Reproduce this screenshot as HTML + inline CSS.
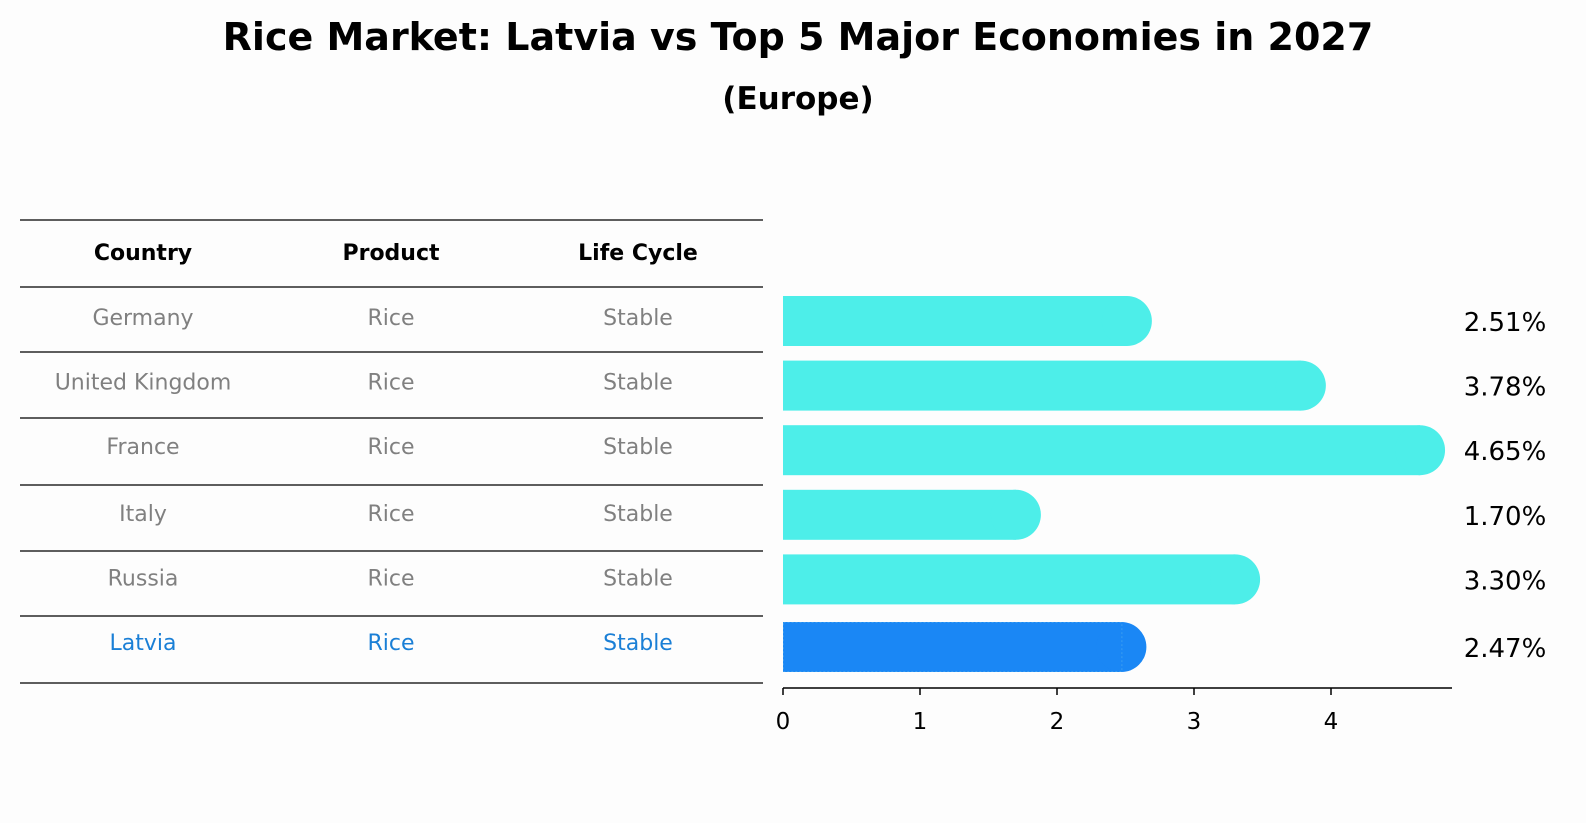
<!DOCTYPE html>
<html><head><meta charset="utf-8"><style>
html,body{margin:0;padding:0;overflow:hidden}
body{background:#fdfdfd;width:1586px;height:823px;font-family:"DejaVu Sans","Liberation Sans",sans-serif}
svg{position:absolute;left:0;top:0}
</style></head><body>
<svg width="1586" height="823" viewBox="0 0 1586 823" xmlns="http://www.w3.org/2000/svg" font-family="DejaVu Sans, Liberation Sans, sans-serif">
<text x="798" y="50" text-anchor="middle" font-size="38" font-weight="bold">Rice Market: Latvia vs Top 5 Major Economies in 2027</text>
<text x="798" y="109" text-anchor="middle" font-size="31" font-weight="bold">(Europe)</text>
<g id="table"></g>
<g id="bars"></g>
</svg>
<script>
const countries=["Germany","United Kingdom","France","Italy","Russia","Latvia"];
const products=["Rice","Rice","Rice","Rice","Rice","Rice"];
const lifecycle=["Stable","Stable","Stable","Stable","Stable","Stable"];
const values=[2.51,3.78,4.65,1.70,3.30,2.47];
const ticks=[0,1,2,3,4];
const NS="http://www.w3.org/2000/svg";
function mk(t,a,p){const e=document.createElementNS(NS,t);for(const k in a)e.setAttribute(k,a[k]);p.appendChild(e);return e;}
const tbl=document.getElementById('table'),bars=document.getElementById('bars');
const lineYs=[220,287,352,418,485,551,616,683];
const colX=[143,391,638];
lineYs.forEach(y=>{const l=mk('line',{x1:20,x2:763,y1:y,y2:y,stroke:'#000','stroke-width':1.2},tbl);

});
["Country","Product","Life Cycle"].forEach((h,i)=>{const t=mk('text',{x:colX[i],y:260,'text-anchor':'middle','font-size':22,'font-weight':'bold'},tbl);t.textContent=h;

});
const x=v=>783+v*137;
const rowY=i=>321+i*64.6;
countries.forEach((c,i)=>{
 const hl=c==="Latvia";const col=hl?'#1a7fd6':'#808080';
 [c,products[i],lifecycle[i]].forEach((s,j)=>{const t=mk('text',{x:colX[j],y:rowY(i)+4+(i>2?2:0),'text-anchor':'middle','font-size':22,fill:col},tbl);t.textContent=s;
 
 });
 const cy=rowY(i)+ (i===5?3:0);
 const fill=hl?'#1a87f5':'#4deee9';
 const g=mk('g',{},bars);
 
 
 mk('rect',{x:783,y:cy-25,width:x(values[i])-783,height:50,fill:fill},g);
 mk('circle',{cx:x(values[i]),cy:cy,r:25,fill:fill},g);
 if(hl){mk('rect',{x:783.5,y:cy-24.5,width:x(values[i])-783,height:49,fill:'none',stroke:'#3a9cf0','stroke-width':1,'stroke-dasharray':'2,2'},g);}
 const v=mk('text',{x:1505,y:cy+10,'text-anchor':'middle','font-size':26},bars);v.textContent=values[i].toFixed(2)+'%';
 
 
});
const ax=mk('line',{x1:783,x2:1452,y1:688,y2:688,stroke:'#000','stroke-width':1.5},bars);


ticks.forEach(t=>{mk('line',{x1:x(t),x2:x(t),y1:688,y2:695,stroke:'#000','stroke-width':1.5},bars);
 const l=mk('text',{x:x(t),y:729,'text-anchor':'middle','font-size':23},bars);l.textContent=t;
 
 });
</script>
</body></html>
